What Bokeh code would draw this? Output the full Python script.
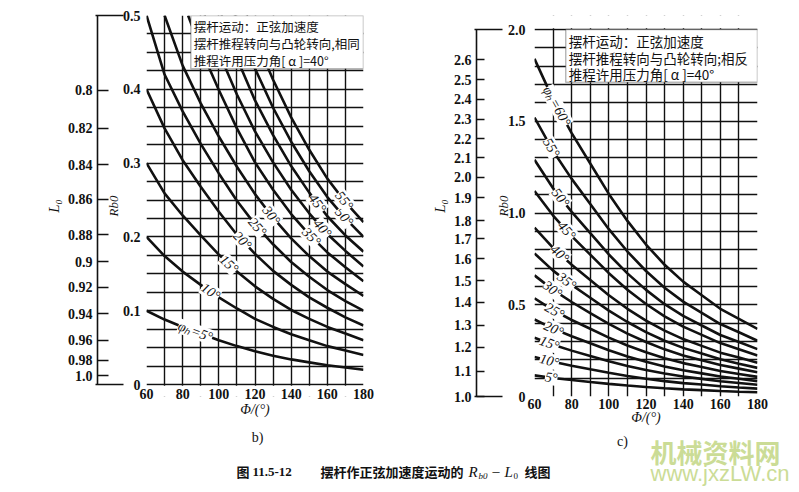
import numpy as np
from bokeh.plotting import figure
from bokeh.models import (FixedTicker, LinearAxis, Label, BoxAnnotation, Title, Range1d)
from bokeh.layouts import column, row
from bokeh.embed import file_html
from bokeh.resources import INLINE

# ------------------------------------------------------------------ data
PHI_TICKS = [60, 80, 100, 120, 140, 160, 180]
PHI = [60, 70, 80, 90, 100, 110, 120, 130, 140, 150, 160, 170, 180]

# panel b) : push stroke turns the same way as the cam
B_R_TICKS = [0, 0.1, 0.2, 0.3, 0.4, 0.5]
B_R_TICK_LABELS = ["0", "0.1", "0.2", "0.3", "0.4", "0.5"]
B_L0_LABELS = ["0.8", "0.82", "0.84", "0.86", "0.88", "0.9", "0.92", "0.94", "0.96", "0.98", "1.0"]
B_L0_AT_R = [0.399, 0.347, 0.298, 0.251, 0.203, 0.166, 0.132, 0.096, 0.060, 0.033, 0.012]
B_PSI = [5, 10, 15, 20, 25, 30, 35, 40, 45, 50, 55]
B_PHI = [
    PHI, PHI, PHI, PHI, PHI,
    [70, 80, 90, 100, 110, 120, 130, 140, 150, 160, 170, 180],
    [83, 90, 100, 110, 120, 130, 140, 150, 160, 170, 180],
    [92, 100, 110, 120, 130, 140, 150, 160, 170, 180],
    [101.3, 110, 120, 130, 140, 150, 160, 170, 180],
    [108.6, 120, 130, 140, 150, 160, 170, 180],
    [115.4, 120, 130, 140, 150, 160, 170, 180],
]
B_R = [
    [0.100, 0.088, 0.078, 0.069, 0.060, 0.052, 0.045, 0.039, 0.034, 0.030, 0.026, 0.023, 0.020],
    [0.200, 0.174, 0.153, 0.135, 0.118, 0.103, 0.089, 0.078, 0.068, 0.060, 0.052, 0.046, 0.040],
    [0.300, 0.259, 0.229, 0.202, 0.176, 0.153, 0.133, 0.116, 0.101, 0.089, 0.078, 0.069, 0.060],
    [0.400, 0.347, 0.304, 0.268, 0.234, 0.203, 0.177, 0.154, 0.135, 0.118, 0.104, 0.091, 0.080],
    [0.500, 0.420, 0.370, 0.326, 0.286, 0.249, 0.217, 0.190, 0.166, 0.146, 0.128, 0.113, 0.100],
    [0.500, 0.432, 0.381, 0.336, 0.295, 0.258, 0.226, 0.198, 0.174, 0.153, 0.136, 0.120],
    [0.500, 0.455, 0.399, 0.347, 0.301, 0.264, 0.231, 0.203, 0.179, 0.159, 0.140],
    [0.500, 0.450, 0.393, 0.343, 0.301, 0.264, 0.232, 0.204, 0.181, 0.160],
    [0.500, 0.442, 0.385, 0.338, 0.296, 0.260, 0.228, 0.202, 0.180],
    [0.500, 0.428, 0.375, 0.329, 0.289, 0.254, 0.225, 0.200],
    [0.500, 0.470, 0.413, 0.362, 0.318, 0.279, 0.247, 0.220],
]
B_LABEL_PHI = [87, 95.4, 105.6, 113, 121.3, 129, 151.2, 157.3, 154.5, 169.3, 169.3]
B_NOTE = ["摆杆运动：正弦加速度", "摆杆推程转向与凸轮转向,相同", "推程许用压力角[ α ]=40°"]

# panel c) : push stroke turns opposite to the cam
C_R_TICKS = [0, 0.5, 1.0, 1.5, 2.0]
C_R_TICK_LABELS = ["0", "0.5", "1.0", "1.5", "2.0"]
C_L0_LABELS = ["1.0", "1.1", "1.2", "1.3", "1.4", "1.5", "1.6", "1.7", "1.8",
               "1.9", "2.0", "2.1", "2.2", "2.3", "2.4", "2.5", "2.6"]
C_L0_AT_R = [0.0, 0.138, 0.269, 0.387, 0.514, 0.632, 0.750, 0.859, 0.959,
             1.083, 1.195, 1.301, 1.404, 1.511, 1.619, 1.726, 1.835]
C_PSI = [5, 10, 15, 20, 25, 30, 35, 40, 45, 50, 55, 60]
C_R = [
    [0.115, 0.101, 0.090, 0.079, 0.069, 0.060, 0.052, 0.045, 0.039, 0.035, 0.030, 0.026, 0.023],
    [0.215, 0.189, 0.168, 0.148, 0.129, 0.112, 0.097, 0.084, 0.073, 0.065, 0.056, 0.049, 0.043],
    [0.320, 0.282, 0.250, 0.221, 0.192, 0.166, 0.144, 0.125, 0.109, 0.096, 0.083, 0.074, 0.064],
    [0.420, 0.370, 0.328, 0.290, 0.252, 0.218, 0.189, 0.164, 0.143, 0.126, 0.109, 0.097, 0.084],
    [0.535, 0.471, 0.417, 0.369, 0.321, 0.278, 0.241, 0.209, 0.182, 0.161, 0.139, 0.123, 0.107],
    [0.660, 0.581, 0.515, 0.455, 0.396, 0.343, 0.297, 0.257, 0.224, 0.198, 0.172, 0.152, 0.132],
    [0.780, 0.686, 0.608, 0.538, 0.468, 0.406, 0.351, 0.304, 0.265, 0.234, 0.203, 0.179, 0.156],
    [0.920, 0.810, 0.718, 0.635, 0.552, 0.478, 0.414, 0.359, 0.313, 0.276, 0.239, 0.212, 0.184],
    [1.120, 0.986, 0.874, 0.773, 0.672, 0.582, 0.504, 0.437, 0.381, 0.336, 0.291, 0.258, 0.224],
    [1.290, 1.135, 1.006, 0.890, 0.774, 0.671, 0.581, 0.503, 0.439, 0.387, 0.335, 0.297, 0.258],
    [1.520, 1.338, 1.186, 1.049, 0.912, 0.790, 0.684, 0.593, 0.517, 0.456, 0.395, 0.350, 0.304],
    [1.840, 1.619, 1.435, 1.270, 1.104, 0.957, 0.828, 0.718, 0.626, 0.552, 0.478, 0.423, 0.368],
]
C_LABEL_PHI = [69, 68, 68, 70.3, 70.8, 69.7, 77.3, 73.5, 77.3, 74, 69, 72]
C_NOTE = ["摆杆运动：正弦加速度", "摆杆推程转向与凸轮转向;相反", "推程许用压力角[ α ]=40°"]

CAPTION = ["图", "11.5-12", "摆杆作正弦加速度运动的", "R", "b0", "–", "L", "0", "线图"]
PANEL_TAGS = ["b)", "c)"]
WATERMARK_TEXT = ["机械资料网", "www.jxzLW.cn"]

# ------------------------------------------------------------------ style
SERIF = "Liberation Serif"
CJK = "Noto Sans CJK SC"
INK = "#111111"
WATERMARK = "#cbdc96"
PANEL_H = 431


def build_panel(width, borders, y_lo, y_hi, r_max, grid_dr, r_ticks, r_tick_labels,
                l0_at, l0_labels, l0_tick_len, psis, phis, rs, label_phi, first_label,
                note, note_box, note_size, note_lead, rb0_label_standoff,
                rb0_tick_standoff, gap_px, x_standoff, xlabel_standoff):
    bl, br, bt, bb = borders
    p = figure(width=width, height=PANEL_H, x_range=Range1d(60, 180),
               y_range=Range1d(y_lo, y_hi), output_backend="svg", toolbar_location=None,
               title=None, min_border_left=bl, min_border_right=br, min_border_top=bt,
               min_border_bottom=bb)
    p.background_fill_color = "white"
    p.border_fill_color = "white"
    p.outline_line_color = None

    # graph-paper grid (its outermost lines form the frame)
    gx = list(range(60, 181, 10))
    gy = [round(v, 4) for v in np.arange(0, r_max + grid_dr / 2, grid_dr)]
    p.xgrid.ticker = FixedTicker(ticks=gx)
    p.ygrid.ticker = FixedTicker(ticks=gy)
    p.grid.grid_line_color = INK
    p.grid.grid_line_width = 1.4
    p.grid.grid_line_alpha = 1.0
    # hide grid overhang outside the 0..r_max band (drawn right after the grid)
    eps = 0.0016 * r_max / 0.5
    if y_lo < 0:
        p.add_layout(BoxAnnotation(top=-eps, fill_color="white", fill_alpha=1.0,
                                   line_color=None, level="underlay"))
    if y_hi > r_max:
        p.add_layout(BoxAnnotation(bottom=r_max + eps, fill_color="white",
                                   fill_alpha=1.0, line_color=None, level="underlay"))

    # x axis
    xa = p.xaxis[0]
    xa.ticker = FixedTicker(ticks=PHI_TICKS)
    xa.axis_label = "Φ/(°)"
    xa.major_label_standoff = x_standoff
    xa.axis_label_standoff = xlabel_standoff
    # R_b0 axis
    ya = p.yaxis[0]
    ya.ticker = FixedTicker(ticks=r_ticks)
    ya.major_label_overrides = {a: t for a, t in zip(r_ticks, r_tick_labels)}
    ya.axis_label = "Rb0"
    ya.major_label_standoff = rb0_tick_standoff
    ya.axis_label_standoff = rb0_label_standoff
    for ax in (xa, ya):
        ax.axis_line_color = None
        ax.major_tick_out = 0
        ax.major_tick_in = 0
        ax.minor_tick_out = 0
        ax.minor_tick_in = 0
        ax.major_label_text_font = SERIF
        ax.major_label_text_font_style = "bold"
        ax.major_label_text_font_size = "14px"
        ax.major_label_text_color = INK
        ax.axis_label_text_font = SERIF
        ax.axis_label_text_font_style = "italic"
        ax.axis_label_text_font_size = "14px"
        ax.axis_label_text_color = INK
    ya.axis_label_text_font_size = "13px"

    # blank spacer between the R_b0 scale and the outer L0 scale
    p.add_layout(Title(text=" ", text_font_size=f"{gap_px}px", standoff=0), "left")

    # outer L0 scale (non-linear relation: ticks placed at matching R_b0)
    l0 = LinearAxis(ticker=FixedTicker(ticks=l0_at, minor_ticks=[0, r_max]),
                    major_label_overrides={a: t for a, t in zip(l0_at, l0_labels)},
                    axis_label="L₀", bounds=(0, r_max))
    l0.axis_line_color = INK
    l0.axis_line_width = 1.6
    l0.major_tick_in = l0_tick_len
    l0.major_tick_out = 0
    l0.major_tick_line_width = 1.6
    l0.major_tick_line_color = INK
    l0.minor_tick_in = 26
    l0.minor_tick_out = 2
    l0.minor_tick_line_width = 1.6
    l0.minor_tick_line_color = INK
    l0.major_label_text_font = SERIF
    l0.major_label_text_font_style = "bold"
    l0.major_label_text_font_size = "14px"
    l0.major_label_text_color = INK
    l0.major_label_standoff = 3
    l0.axis_label_text_font = SERIF
    l0.axis_label_text_font_style = "italic"
    l0.axis_label_text_font_size = "15px"
    l0.axis_label_text_color = INK
    l0.axis_label_standoff = 3
    p.add_layout(l0, "left")

    # curves
    for x, r in zip(phis, rs):
        p.line(x, r, line_width=2.6, line_color=INK)

    # note box
    nl, nb = note_box
    p.add_layout(BoxAnnotation(left=nl, right=180, bottom=nb, top=r_max,
                               fill_color="white", fill_alpha=1.0,
                               line_color=INK, line_width=1.5))
    for i, line in enumerate(note):
        p.add_layout(Label(x=nl, y=r_max, x_offset=3,
                           y_offset=-(note_size * 0.5 + 5 + i * note_size * note_lead),
                           text=line, text_font=CJK, text_font_size=f"{note_size}px",
                           text_color=INK, text_baseline="middle", text_align="left"))

    # curve labels, rotated along the curve
    frame_w = width - bl - br
    frame_h = PANEL_H - bt - bb
    sx = frame_w / 120.0
    sy = frame_h / (y_hi - y_lo)
    for k, (psi, x, r, lx) in enumerate(zip(psis, phis, rs, label_phi)):
        ly = float(np.interp(lx, x, r))
        d = (np.interp(lx + 2, x, r) - np.interp(lx - 2, x, r)) / 4.0
        ang = float(np.arctan(d * sy / sx))
        txt = f"{psi}°" if k != first_label else f"φₕ={psi}°"
        p.add_layout(Label(x=lx, y=ly, text=txt, angle=ang, text_align="center",
                           text_baseline="middle", text_font=SERIF,
                           text_font_style="italic", text_font_size="14px",
                           text_color=INK, background_fill_color="white",
                           background_fill_alpha=1.0))
    return p


# left frame: R_b0 0 at y=384, 0.5 at y=15 ; right frame: 0 at y=396, 2.0 at y=29
pb = build_panel(400, (146, 37, 15, 35), -12 / 738, 0.5, 0.5, 0.025, B_R_TICKS,
                 B_R_TICK_LABELS, B_L0_AT_R, B_L0_LABELS, 11, B_PSI, B_PHI, B_R,
                 B_LABEL_PHI, 0, B_NOTE, (84.5, 0.428), 12.5, 1.36, -1, 6, 3, -8, 0)

C_PHI = [PHI] * len(C_PSI)
pc = build_panel(399, (134, 42, 15, 35), 0.0, 2.0 + 14 / 183.5, 2.0, 0.1, C_R_TICKS,
                 C_R_TICK_LABELS, C_L0_AT_R, C_L0_LABELS, 8, C_PSI, C_PHI, C_R,
                 C_LABEL_PHI, len(C_PSI) - 1, C_NOTE, (76.8, 1.713), 13.5, 1.22, -6, 9,
                 12, 2, -2)

# caption strip (y measured upward from the bottom of the page)
CAP_H = 492 - PANEL_H
cap = figure(width=799, height=CAP_H, x_range=Range1d(0, 799), y_range=Range1d(0, CAP_H),
             output_backend="svg", toolbar_location=None, x_axis_type=None,
             y_axis_type=None, min_border=0, title=None)
cap.grid.visible = False
cap.outline_line_color = None
cap.background_fill_color = "white"
cap.border_fill_color = "white"
cap_specs = [
    (257, 55, PANEL_TAGS[0], SERIF, "normal", "14px", "center"),
    (622, 51, PANEL_TAGS[1], SERIF, "normal", "14px", "center"),
    (236, 21, CAPTION[0], CJK, "bold", "13px", "left"),
    (252, 21, CAPTION[1], SERIF, "bold", "13px", "left"),
    (320, 21, CAPTION[2], CJK, "bold", "13px", "left"),
    (468, 21, CAPTION[3], SERIF, "italic", "15px", "left"),
    (478, 17, CAPTION[4], SERIF, "italic", "9px", "left"),
    (492, 21, CAPTION[5], SERIF, "normal", "14px", "left"),
    (504, 21, CAPTION[6], SERIF, "italic", "15px", "left"),
    (513, 17, CAPTION[7], SERIF, "normal", "9px", "left"),
    (524, 21, CAPTION[8], CJK, "bold", "13px", "left"),
]
# watermark (drawn first so the caption sits over it)
cap.add_layout(Label(x=715, y=41, text=WATERMARK_TEXT[0], text_font=CJK,
                     text_font_style="bold", text_font_size="26px", text_color=WATERMARK,
                     text_align="center", text_baseline="middle"))
cap.add_layout(Label(x=789, y=19, text=WATERMARK_TEXT[1], text_font="Liberation Sans",
                     text_font_size="22px", text_color=WATERMARK,
                     text_align="right", text_baseline="middle"))
for x, y, t, f, s, fs, al in cap_specs:
    cap.add_layout(Label(x=x, y=y, text=t, text_font=f, text_font_style=s,
                         text_font_size=fs, text_color=INK, text_baseline="middle",
                         text_align=al))

layout = column(row(pb, pc, spacing=0), cap, spacing=0)
open("out.html", "w").write(file_html(layout, INLINE))
